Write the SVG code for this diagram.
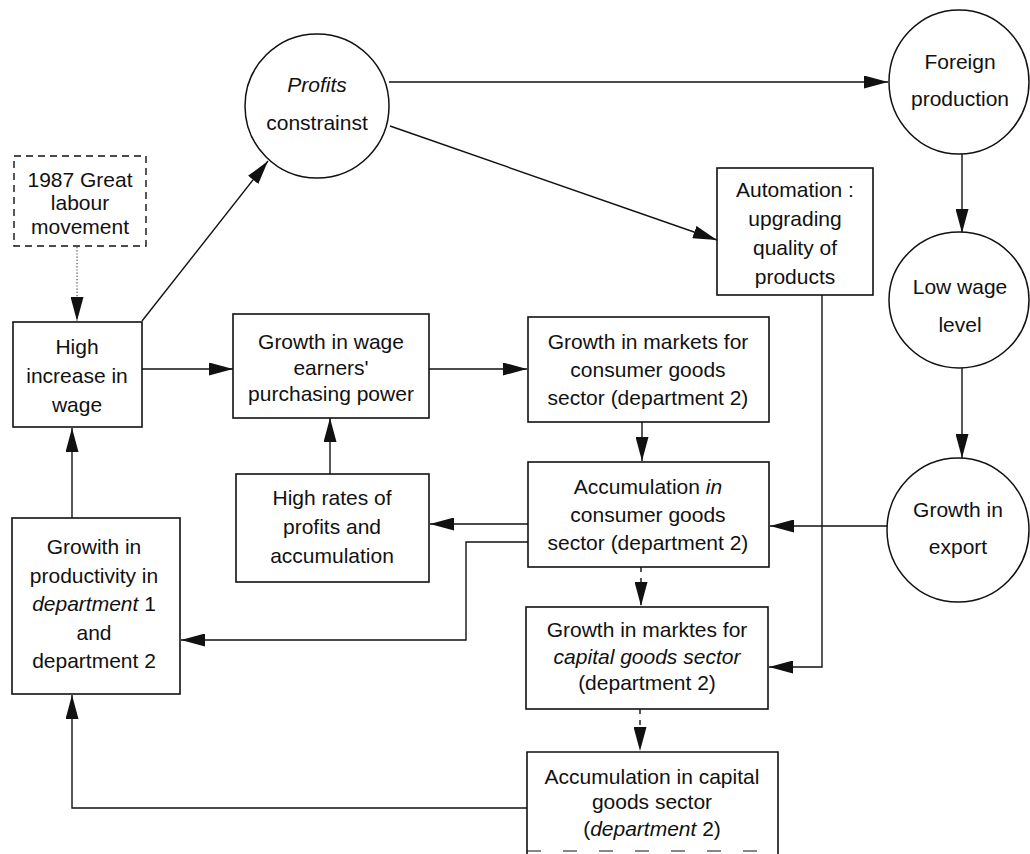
<svg xmlns="http://www.w3.org/2000/svg" width="1030" height="854" viewBox="0 0 1030 854">
<style>
.box{fill:#fff;stroke:#111;stroke-width:1.6}
.circ{fill:#fff;stroke:#111;stroke-width:1.5}
text{font-family:"Liberation Sans",Arial,Helvetica,sans-serif;font-size:21px;fill:#111;text-anchor:middle}
.it{font-style:italic}
.conn{stroke:#111;stroke-width:1.4;fill:none;marker-end:url(#ah)}
.dash{stroke-dasharray:5,6}
.dot{stroke:#666;stroke-dasharray:1.2,2}
</style>
<defs>
<marker id="ah" markerUnits="userSpaceOnUse" markerWidth="24" markerHeight="13" refX="24" refY="6.5" orient="auto">
<path d="M0,0 L24,6.5 L0,13 z" fill="#111"/>
</marker>
</defs>
<rect width="1030" height="854" fill="#fff"/>

<g id="connectors">
<line class="conn dot" x1="77" y1="247" x2="77" y2="321"/>
<line class="conn" x1="142" y1="321" x2="268" y2="161"/>
<line class="conn" x1="389" y1="82" x2="888" y2="82"/>
<line class="conn" x1="390" y1="126" x2="717" y2="240"/>
<line class="conn" x1="962" y1="154" x2="962" y2="233"/>
<line class="conn" x1="962" y1="368" x2="962" y2="458"/>
<line class="conn" x1="887" y1="526" x2="770" y2="526"/>
<polyline class="conn" points="822,295 822,667 769,667"/>
<line class="conn" x1="142" y1="369" x2="233" y2="369"/>
<line class="conn" x1="429" y1="369" x2="527" y2="369"/>
<line class="conn" x1="642" y1="422" x2="642" y2="461"/>
<line class="conn" x1="330" y1="474" x2="330" y2="418"/>
<line class="conn" x1="528" y1="524" x2="430" y2="524"/>
<polyline class="conn" points="528,542 466,542 466,640 181,640"/>
<line class="conn dash" x1="641" y1="567" x2="641" y2="606"/>
<line class="conn dash" x1="640" y1="709" x2="640" y2="751"/>
<polyline class="conn" points="527,808 72,808 72,695"/>
<line class="conn" x1="72" y1="518" x2="72" y2="428"/>
</g>

<g id="n-labour">
<rect x="14" y="156" width="132" height="90" fill="#fff" stroke="#111" stroke-width="1.4" stroke-dasharray="7,5"/>
<text x="80" y="187">1987 Great</text>
<text x="80" y="210">labour</text>
<text x="80" y="234">movement</text>
</g>

<g id="n-profits">
<circle class="circ" cx="317" cy="106" r="72"/>
<text x="317" y="92" class="it">Profits</text>
<text x="317" y="130">constrainst</text>
</g>

<g id="n-foreign">
<ellipse class="circ" cx="959" cy="82" rx="70" ry="72"/>
<text x="960" y="69">Foreign</text>
<text x="960" y="106">production</text>
</g>

<g id="n-automation">
<rect class="box" x="717" y="168" width="156" height="127"/>
<text x="795" y="197">Automation :</text>
<text x="795" y="226">upgrading</text>
<text x="795" y="255">quality of</text>
<text x="795" y="284">products</text>
</g>

<g id="n-lowwage">
<ellipse class="circ" cx="959" cy="300" rx="70" ry="68"/>
<text x="960" y="294">Low wage</text>
<text x="960" y="332">level</text>
</g>

<g id="n-export">
<ellipse class="circ" cx="958" cy="530" rx="71" ry="72"/>
<text x="958" y="517">Growth in</text>
<text x="958" y="554">export</text>
</g>

<g id="n-highwage">
<rect class="box" x="13" y="322" width="129" height="105"/>
<text x="77" y="354">High</text>
<text x="77" y="383">increase in</text>
<text x="77" y="412">wage</text>
</g>

<g id="n-purchasing">
<rect class="box" x="233" y="314" width="196" height="104"/>
<text x="331" y="349">Growth in wage</text>
<text x="331" y="375">earners'</text>
<text x="331" y="401">purchasing power</text>
</g>

<g id="n-markets-consumer">
<rect class="box" x="528" y="317" width="241" height="105"/>
<text x="648" y="349">Growth in markets for</text>
<text x="648" y="377">consumer goods</text>
<text x="648" y="405">sector (department 2)</text>
</g>

<g id="n-highrates">
<rect class="box" x="236" y="474" width="193" height="108"/>
<text x="332" y="505">High rates of</text>
<text x="332" y="534">profits and</text>
<text x="332" y="563">accumulation</text>
</g>

<g id="n-accum-consumer">
<rect class="box" x="528" y="462" width="241" height="105"/>
<text x="648" y="494">Accumulation <tspan class="it">in</tspan></text>
<text x="648" y="522">consumer goods</text>
<text x="648" y="550">sector (department 2)</text>
</g>

<g id="n-productivity">
<rect class="box" x="12" y="518" width="168" height="176"/>
<text x="94" y="554">Growith in</text>
<text x="94" y="583">productivity in</text>
<text x="94" y="611"><tspan class="it">department</tspan> 1</text>
<text x="94" y="640">and</text>
<text x="94" y="668">department 2</text>
</g>

<g id="n-markets-capital">
<rect class="box" x="526" y="607" width="242" height="102"/>
<text x="647" y="637">Growth in marktes for</text>
<text x="647" y="664" class="it">capital goods sector</text>
<text x="647" y="690">(department 2)</text>
</g>

<g id="n-accum-capital">
<path d="M527,854 V752 H778 V854" fill="#fff" stroke="#111" stroke-width="1.6"/>
<line x1="527" y1="851" x2="778" y2="851" stroke="#111" stroke-width="1.2" stroke-dasharray="14,22"/>
<text x="652" y="784">Accumulation in capital</text>
<text x="652" y="809">goods sector</text>
<text x="652" y="836">(<tspan class="it">department</tspan> 2)</text>
</g>
</svg>
